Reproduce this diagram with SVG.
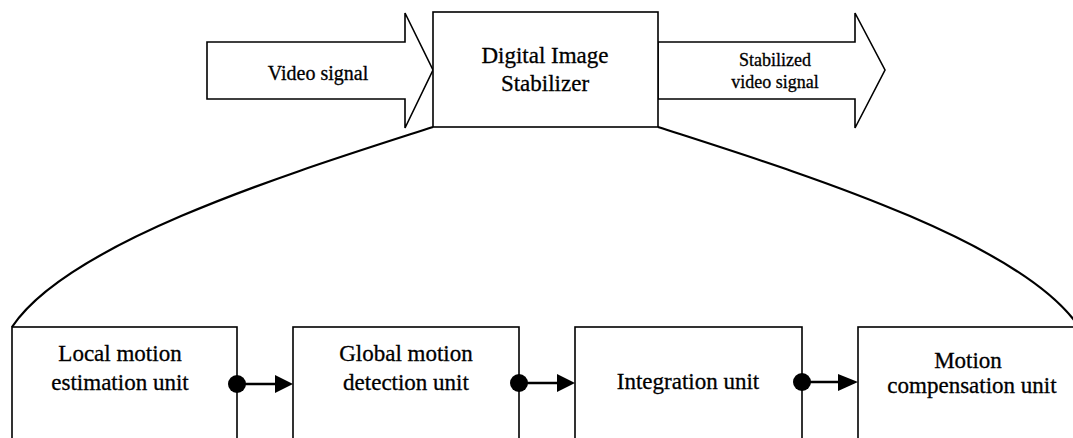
<svg xmlns="http://www.w3.org/2000/svg" width="1073" height="438" viewBox="0 0 1073 438">
<style>
.box{fill:#fff;stroke:#000;stroke-width:1.6}
.arr{fill:#fff;stroke:#000;stroke-width:1.6;stroke-linejoin:miter}
.curve{fill:none;stroke:#000;stroke-width:2.2}
.t{font-family:"Liberation Serif","Times New Roman",serif;fill:#000;stroke:#000;stroke-width:0.3;text-anchor:middle}
.link{stroke:#000;stroke-width:2.6}
.dot{fill:#000}
.head{fill:#000}
</style>
<rect width="1073" height="438" fill="#fff"/>
<g id="curves">
<path class="curve" d="M433,127 C300,170 70,240 12,327"/>
<path class="curve" d="M658,127 C791,170 1021,240 1079,327"/>
</g>
<g id="input-arrow">
<polygon class="arr" points="207,42 405,42 405,13 433,70 405,128 405,99 207,99"/>
<text class="t" x="318" y="80" font-size="20">Video signal</text>
</g>
<g id="output-arrow">
<polygon class="arr" points="658,42 855,42 855,13 885,70 855,128 855,99 658,99"/>
<text class="t" x="775" y="66" font-size="18">Stabilized</text>
<text class="t" x="775" y="88" font-size="18">video signal</text>
</g>
<g id="dis">
<rect class="box" x="433" y="12" width="225" height="115"/>
<text class="t" x="545" y="63" font-size="23">Digital Image</text>
<text class="t" x="545" y="91" font-size="23">Stabilizer</text>
</g>
<g id="local">
<rect class="box" x="12" y="327" width="225" height="120"/>
<text class="t" x="120" y="361" font-size="23">Local motion</text>
<text class="t" x="120" y="390" font-size="23">estimation unit</text>
</g>
<g id="global">
<rect class="box" x="293" y="327" width="226" height="120"/>
<text class="t" x="406" y="361" font-size="23">Global motion</text>
<text class="t" x="406" y="390" font-size="23">detection unit</text>
</g>
<g id="integration">
<rect class="box" x="575" y="327" width="227" height="120"/>
<text class="t" x="688" y="389" font-size="23">Integration unit</text>
</g>
<g id="compensation">
<rect class="box" x="858" y="327" width="226" height="120"/>
<text class="t" x="968" y="368" font-size="23">Motion</text>
<text class="t" x="972" y="393" font-size="23">compensation unit</text>
</g>
<g id="connectors">
<line class="link" x1="237" y1="384" x2="278" y2="384"/>
<circle class="dot" cx="237" cy="384" r="9"/>
<polygon class="head" points="275,375 293,384 275,393"/>
<line class="link" x1="519" y1="383" x2="560" y2="383"/>
<circle class="dot" cx="519" cy="383" r="9"/>
<polygon class="head" points="557,374 575,383 557,392"/>
<line class="link" x1="802" y1="382" x2="842" y2="382" stroke-width="2"/>
<circle class="dot" cx="802" cy="382" r="9"/>
<polygon class="head" points="838,374 858,382 838,391"/>
</g>
</svg>
